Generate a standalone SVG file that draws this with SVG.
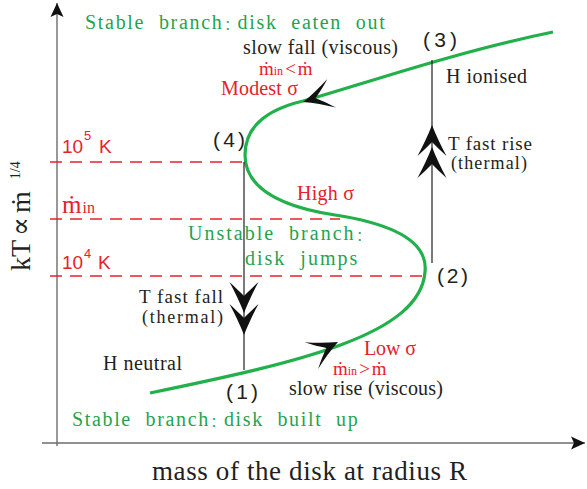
<svg xmlns="http://www.w3.org/2000/svg" xmlns:xlink="http://www.w3.org/1999/xlink" width="587" height="489" viewBox="0 0 587 489">
<style>
.ser{font-family:"Liberation Serif","DejaVu Serif","Noto Sans CJK SC",serif}
.sans{font-family:"Liberation Sans",Arial,sans-serif}
.blk{fill:#231f20}
.red{fill:#e8202a}
.grn{fill:#1fa44e;font-size:20px;letter-spacing:2px;word-spacing:7px}
.col{font-family:"Noto Sans CJK SC",sans-serif;font-size:13px;letter-spacing:0}
.t20{font-size:20px}
.t19{font-size:19px}
.t18{font-size:18px}
.dash{stroke:#e8202a;stroke-width:1.6;stroke-dasharray:12 8;fill:none}
.vline{stroke:#231f20;stroke-width:1.2;fill:none}
.axis{stroke:#6d6d6d;stroke-width:1.4;fill:none}
.curve{stroke:#22b04a;stroke-width:3.2;fill:none}
.head{fill:#111}
</style>
<defs>
<marker id="axhead" viewBox="-15 -7 16 14" refX="0" refY="0" markerWidth="16" markerHeight="14" markerUnits="userSpaceOnUse" orient="auto">
<path d="M0,0 L-14,-6.5 L-11,0 L-14,6.5 Z" fill="#111"/>
</marker>
<path id="chev" d="M0,0 C4,10 9,21 14.5,31 C9,26 4,21 0,17 C-4,21 -9,26 -14.5,31 C-9,21 -4,10 0,0 Z"/>
<path id="ah" d="M0,0 C-10,-4 -20,-9 -30,-15 C-23,-8 -17,-3 -13,0 C-17,3 -23,8 -30,15 C-20,9 -10,4 0,0 Z"/>
</defs>
<rect width="587" height="489" fill="#fff"/>
<g id="axes">
<line class="axis" x1="57" y1="446" x2="57" y2="3" marker-end="url(#axhead)"/>
<line class="axis" x1="42" y1="443" x2="585" y2="443" marker-end="url(#axhead)"/>
<text class="ser blk" font-size="27" x="152" y="480" textLength="315" lengthAdjust="spacing">mass of the disk at radius R</text>
<text class="ser blk" font-size="28" transform="translate(30,271) rotate(-90)">kT<tspan dx="4">∝</tspan><tspan dx="4">ṁ</tspan><tspan dx="12" dy="-10" font-size="14">1/4</tspan></text>
</g>
<g id="levels">
<line class="dash" x1="50" y1="162" x2="244" y2="162"/>
<line class="dash" x1="50" y1="219" x2="340" y2="219"/>
<line class="dash" x1="50" y1="276" x2="423" y2="276"/>
<text class="sans red" font-size="19" x="62" y="153">10<tspan x="84" dy="-13" font-size="13">5</tspan><tspan x="99" dy="13">K</tspan></text>
<text class="ser red" font-size="25" x="62" y="213">ṁ<tspan font-size="16" dx="1">in</tspan></text>
<text class="sans red" font-size="19" x="62" y="269">10<tspan x="84" dy="-11" font-size="13">4</tspan><tspan x="98" dy="11">K</tspan></text>
</g>
<g id="connectors">
<path class="curve" d="M150,393 C300,362 420,335 425,272 C428,245 400,225 335,215 C277,206 245,187 245,155 C245,128 265,110 303,101 C345,90 450,53 553,32"/>
<line class="vline" x1="432" y1="60" x2="432" y2="263"/>
<line class="vline" x1="244" y1="162" x2="244" y2="370"/>
<use xlink:href="#chev" class="head" x="432" y="125"/>
<use xlink:href="#chev" class="head" x="432" y="147"/>
<use xlink:href="#chev" class="head" transform="translate(244,313) rotate(180)"/>
<use xlink:href="#chev" class="head" transform="translate(244,335) rotate(180)"/>
<use xlink:href="#ah" class="head" transform="translate(303,102) rotate(163)"/>
<use xlink:href="#ah" class="head" transform="translate(338,342) rotate(-27)"/>
</g>
<g id="state3">
<text class="sans blk" font-size="21" x="423" y="47" textLength="34" lengthAdjust="spacing">(3)</text>
<text class="ser blk t20" x="446" y="83" textLength="81" lengthAdjust="spacing">H ionised</text>
</g>
<g id="rise">
<text class="ser blk t19" x="448" y="150" textLength="84" lengthAdjust="spacing">T fast rise</text>
<text class="ser blk t18" x="451" y="169" textLength="76" lengthAdjust="spacing">(thermal)</text>
</g>
<g id="branch-top">
<text class="ser grn" x="85" y="29" style="letter-spacing:1.7px">Stable branch<tspan class="col" dx="1">：</tspan><tspan>disk eaten out</tspan></text>
<text class="ser blk t20" x="243" y="54" textLength="155" lengthAdjust="spacing">slow fall (viscous)</text>
<text class="ser red" font-size="19" x="259" y="75">ṁ<tspan font-size="12">in</tspan><tspan dx="2">&lt;</tspan><tspan dx="2">ṁ</tspan></text>
<text class="ser red t20" x="221" y="95" textLength="77" lengthAdjust="spacing">Modest σ</text>
</g>
<g id="state4">
<text class="sans blk" font-size="21" x="213" y="147" textLength="32" lengthAdjust="spacing">(4)</text>
</g>
<g id="branch-mid">
<text class="ser red t20" x="297" y="200" textLength="57" lengthAdjust="spacing">High σ</text>
<text class="ser grn" x="188" y="240">Unstable branch<tspan class="col" dx="1">：</tspan></text>
<text class="ser grn" x="245" y="265">disk jumps</text>
</g>
<g id="state2">
<text class="sans blk" font-size="21" x="437" y="283" textLength="31" lengthAdjust="spacing">(2)</text>
</g>
<g id="fall">
<text class="ser blk t19" x="139" y="303" textLength="84" lengthAdjust="spacing">T fast fall</text>
<text class="ser blk t18" x="142" y="323" textLength="81" lengthAdjust="spacing">(thermal)</text>
</g>
<g id="state1">
<text class="ser blk t20" x="103" y="370" textLength="79" lengthAdjust="spacing">H neutral</text>
<text class="sans blk" font-size="21" x="226" y="399" textLength="32" lengthAdjust="spacing">(1)</text>
</g>
<g id="branch-bottom">
<text class="ser red t20" x="364" y="355" textLength="52" lengthAdjust="spacing">Low σ</text>
<text class="ser red" font-size="19" x="333" y="375">ṁ<tspan font-size="12">in</tspan><tspan dx="2">&gt;</tspan><tspan dx="2">ṁ</tspan></text>
<text class="ser blk t20" x="289" y="395" textLength="154" lengthAdjust="spacing">slow rise (viscous)</text>
<text class="ser grn" x="72" y="426" style="letter-spacing:1.65px">Stable branch<tspan class="col" dx="1">：</tspan><tspan>disk built up</tspan></text>
</g>
</svg>
